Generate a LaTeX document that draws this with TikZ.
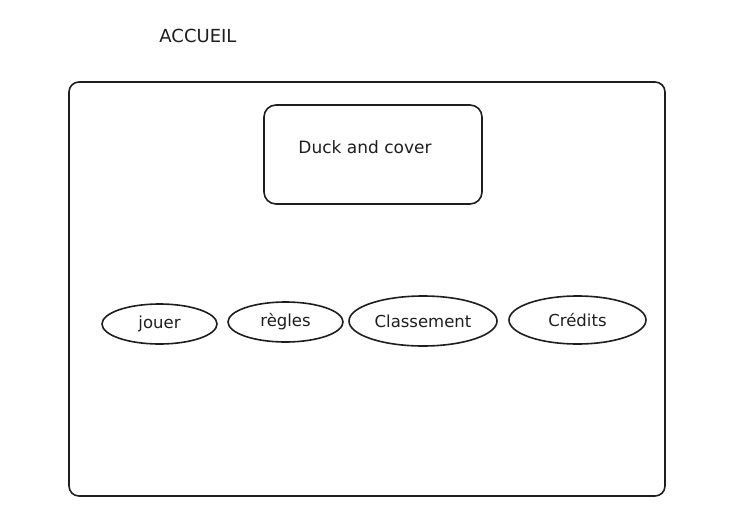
\documentclass[tikz,border=0pt]{standalone}
\usepackage{fontspec}
\setmainfont{DejaVu Sans}
\usetikzlibrary{shapes.geometric}
\definecolor{ink}{HTML}{1E1E1E}
\tikzset{
  frame/.style={draw=ink, line width=1.6pt, rounded corners=10pt},
  menuitem/.style={ellipse, draw=ink, line width=1.6pt, inner sep=0pt, font=\fontsize{16.5}{19}\selectfont, text=ink},
  label/.style={text=ink, inner sep=0pt, font=\fontsize{17}{20}\selectfont}
}
\begin{document}
\begin{tikzpicture}[x=1pt,y=-1pt]
\useasboundingbox (0,0) rectangle (741,522);
\node[label, font=\fontsize{18}{21}\selectfont] (accueil) at (198,36) {ACCUEIL};
\node[frame, minimum width=596pt, minimum height=414pt] (screen) at (367,289) {};
\node[frame, rounded corners=12pt, minimum width=218pt, minimum height=99pt] (titlebox) at (373,154.5) {};
\node[label] (title) at (365,147) {Duck and cover};
\node[menuitem, minimum width=115pt, minimum height=40pt] (jouer) at (159.5,324) {jouer};
\node[menuitem, minimum width=115pt, minimum height=40pt] (regles) at (285.5,322) {règles};
\node[menuitem, minimum width=148pt, minimum height=50pt] (classement) at (423,321) {Classement};
\node[menuitem, minimum width=137pt, minimum height=48pt] (credits) at (577.5,320) {Crédits};
\end{tikzpicture}
\end{document}
